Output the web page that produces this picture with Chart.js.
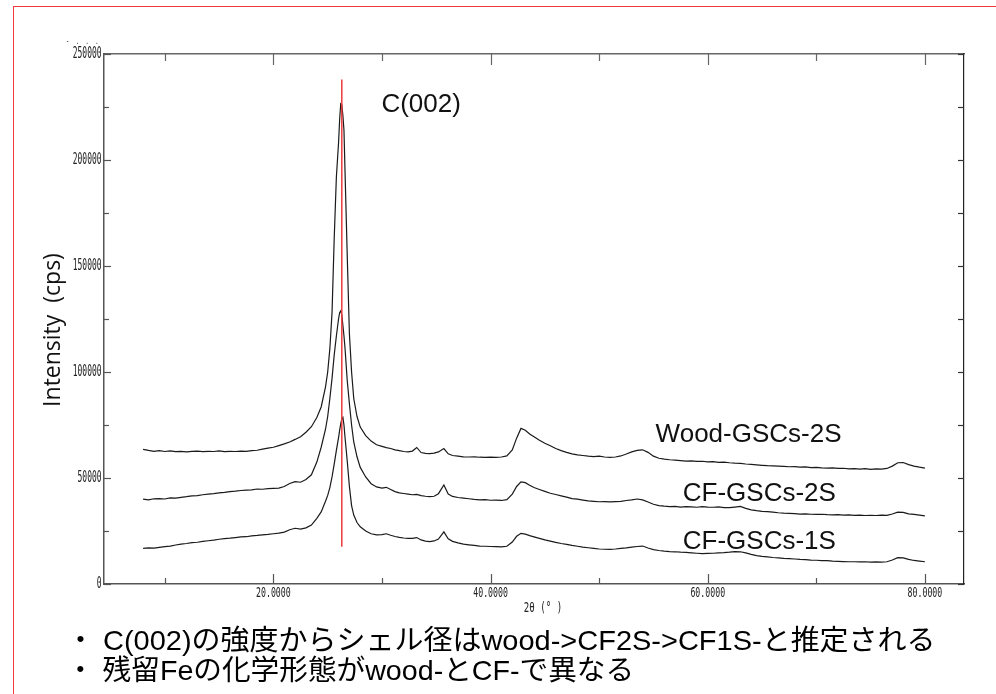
<!DOCTYPE html>
<html>
<head>
<meta charset="utf-8">
<script src="https://cdn.jsdelivr.net/npm/chart.js@4.4.1/dist/chart.umd.min.js"></script>
<style>
  html, body { margin: 0; padding: 0; background: #fff; }
  #wrap { position: relative; width: 996px; height: 694px; overflow: hidden; }
  #c { position: absolute; left: 0; top: 0; }
  #frameTop { position: absolute; left: 13px; top: 6px; width: 983px; height: 0; border-top: 1px solid #f23a3a; }
  #frameLeft { position: absolute; left: 13px; top: 6px; width: 0; height: 688px; border-left: 1px solid #f23a3a; }
</style>
</head>
<body>
<div id="wrap">
  <canvas id="c" width="996" height="694"></canvas>
  <div id="frameTop"></div>
  <div id="frameLeft"></div>
</div>
<script>
// 2θ sampling grid (degrees)
const twoTheta = [
  8, 8.5, 9, 9.5, 10, 10.5, 11, 11.5, 12, 12.5,
  13, 13.5, 14, 14.5, 15, 15.5, 16, 16.5, 17, 17.5,
  18, 18.5, 19, 19.5, 20,
  20.5, 21, 21.5, 22, 22.5, 23, 23.5, 24, 24.4, 24.8,
  25.0, 25.2, 25.4, 25.6, 25.8, 26.0, 26.1, 26.2, 26.3, 26.4,
  26.5, 26.6, 26.8, 27.0, 27.2, 27.4, 27.7, 28.0,
  28.5, 29, 29.5, 30, 30.4, 30.8, 31.2, 31.6, 32, 32.4,
  32.8, 33.2, 33.6, 34, 34.4, 34.8, 35.2, 35.7, 36.1, 36.5,
  37, 37.5, 38, 38.5, 39, 39.5, 40, 40.5, 41, 41.5,
  42, 42.4, 42.8, 43.2, 43.6, 44, 44.5, 45,
  45.5, 46, 46.5, 47, 47.5, 48, 48.5, 49, 49.5, 50,
  50.5, 51, 51.5, 52, 52.5, 53, 53.5, 54, 54.5, 55,
  55.5, 56, 56.5, 57, 57.5, 58, 58.5, 59, 59.5, 60,
  60.5, 61, 61.5, 62, 62.5, 63, 63.5, 64, 64.5, 65,
  65.5, 66, 66.5, 67, 67.5, 68, 68.5, 69, 69.5, 70,
  70.5, 71, 71.5, 72, 72.5, 73, 73.5, 74, 74.5, 75,
  75.5, 76, 76.5, 77, 77.5, 78, 78.5, 79, 79.5, 80
];

// Intensity (cps), Wood-GSCs-2S
const woodGSCs2S = [
  63500, 63000, 62600, 62900, 62500, 62800, 62400, 62600, 62300, 62600,
  62700, 62400, 62600, 62500, 62800, 62400, 62600, 62500, 62700, 62600,
  62900, 63100, 63600, 64100, 64500,
  65300, 66100, 67000, 68200, 69500, 71600, 74200, 78500, 83500, 93000,
  100000, 111000, 128000, 163000, 192000, 208000, 219000, 226500, 226000, 221000,
  214000, 194000, 155000, 118000, 100000, 87500, 79000, 74000,
  70000, 67400, 65700, 64900, 64300, 63900, 63300, 62900, 62500, 62300,
  62700, 64400, 62000, 61600, 61500, 61700, 62300, 63900, 61400, 60600,
  60300, 60000, 59900, 60000, 59800, 59700, 59800, 59700, 59900, 60400,
  63200, 68800, 73400, 72500, 70800, 69500, 67800, 66400,
  65200, 63900, 62900, 62100, 61400, 60900, 60600, 60300, 60100, 60300,
  59900, 59700, 59900, 60400, 61300, 62300, 63000, 63300, 62100, 60300,
  59300, 58900, 58600, 58400, 58200, 58000, 58100, 57800, 57900, 57600,
  57700, 57400, 57500, 57200, 57000, 56900, 56600, 56400, 56200, 56000,
  55800, 55700, 55600, 55500, 55300, 55400, 55100, 55200, 54900, 55000,
  54800, 54700, 54800, 54500, 54600, 54300, 54400, 54200, 54400, 54100,
  54300, 54200, 54500, 55600, 57200, 57300, 56300, 55600, 55100, 54700
];

// Intensity (cps), CF-GSCs-2S
const cfGSCs2S = [
  40000, 39700, 40200, 40300, 40100, 40600, 40500, 40900, 41200, 41600,
  41700, 42100, 42400, 42600, 43000, 43200, 43600, 43800, 44100, 44300,
  44400, 44800, 44700, 45000, 45100,
  45200, 46000, 47400, 48300, 48000, 49300, 51500, 57500, 64500, 73000,
  79000, 87500, 97000, 108000, 117000, 125000, 128000, 128800, 127000, 122000,
  117000, 111000, 96000, 85000, 75000, 67000, 60000, 55000,
  50500, 47300, 45800, 45200, 45600, 44600, 43600, 43000, 42700, 42400,
  42100, 42300, 41700, 41400, 41200, 41400, 42600, 46700, 42400, 41300,
  40800, 40500, 40200, 39900, 39700, 39800, 39500, 39600, 39400, 39800,
  42400, 46000, 48200, 47800, 46600, 45500, 44600, 43700,
  42800, 42200, 41600, 41000, 40300, 40000, 39600, 39200, 39000, 38800,
  38900, 38700, 38900, 39000, 39400, 39700, 40100, 39700, 38700, 37600,
  37000, 36700, 36500, 36600, 36300, 36500, 36400, 36200, 36500, 36300,
  36200, 36400, 36000, 36000, 36300, 36600, 35700, 35000, 34600, 34300,
  34100, 33900, 33600, 33400, 33300, 33200, 33000, 33100, 32900, 32800,
  32900, 32700, 32600, 32700, 32500, 32600, 32400, 32500, 32300, 32400,
  32300, 32500, 32400, 33000, 33900, 33800, 33100, 32800, 32500, 32100
];

// Intensity (cps), CF-GSCs-1S
const cfGSCs1S = [
  16800, 17000, 16900, 17300, 17600, 17900, 18400, 18800, 19100, 19500,
  19700, 20100, 20400, 20700, 21100, 21400, 21600, 21900, 22200, 22300,
  22700, 22900, 23200, 23400, 23700,
  24000, 24500, 25600, 26300, 25900, 26500, 27800, 31000, 34000, 39000,
  41800, 45500, 50500, 56500, 63000, 69000, 72500, 75500, 77800, 78600,
  75000, 69000, 58000, 46000, 37000, 32500, 29000, 27000,
  25000, 23700, 23200, 23300, 23700, 23000, 22400, 22000, 21700, 21500,
  21500, 21900, 20800, 20200, 20000, 20300, 21200, 24600, 21300, 20100,
  19400, 18800, 18500, 18200, 17900, 17800, 17700, 17600, 17500, 17800,
  19800, 22500, 23900, 23500, 22800, 22200, 21500, 20800,
  20200, 19600, 19100, 18700, 18200, 17800, 17400, 17100, 16800, 16500,
  16400, 16300, 16500, 16800, 17000, 17400, 17700, 17900, 17000, 16200,
  15800, 15500, 15300, 15200, 15000, 14900, 14700, 14500, 14300, 14400,
  14500, 14700, 14800, 15000, 15300, 15200, 14700, 14000, 13400, 13000,
  12800, 12500, 12300, 12100, 12000, 11800, 11600, 11500, 11300, 11200,
  11000, 11000, 10800, 10700, 10600, 10500, 10500, 10400, 10500, 10300,
  10400, 10300, 10500, 11300, 12400, 12300, 11600, 11100, 10800, 10500
];

// C(002) reference line: 2θ position and intensity span
const c002Angle = 26.3;
const c002Span = [17600, 238000];

// axis tick values and labels
const xTickValues = [10, 20, 30, 40, 50, 60, 70, 80];
const xLabelValues = [20, 40, 60, 80];
const yTickValues = [0, 25000, 50000, 75000, 100000, 125000, 150000, 175000, 200000, 225000, 250000];
const yLabelValues = [0, 50000, 100000, 150000, 200000, 250000];

// text annotations, anchored in data coordinates
const annotations = [
  { text: 'C(002)', x: 29.95, y: 222800 },
  { text: 'Wood-GSCs-2S', x: 55.2, y: 67100 },
  { text: 'CF-GSCs-2S', x: 57.7, y: 39150 },
  { text: 'CF-GSCs-1S', x: 57.7, y: 16370 }
];

const notes = [
  '・ C(002)の強度からシェル径はwood->CF2S->CF1S-と推定される',
  '・ 残留Feの化学形態がwood-とCF-で異なる'
];

const toPoints = (ys) => twoTheta.map((t, i) => ({ x: t, y: ys[i] }));

function narrowText(ctx, text, x, y, align, font, sx) {
  ctx.save();
  ctx.translate(x, y);
  ctx.scale(sx, 1);
  ctx.font = font;
  ctx.textAlign = align;
  ctx.textBaseline = 'middle';
  ctx.fillText(text, 0, 0);
  ctx.restore();
}

function wideText(ctx, text, x, y, sx) {
  ctx.save();
  ctx.translate(x, y);
  ctx.scale(sx, 1);
  ctx.fillText(text, 0, 0);
  ctx.restore();
}

const overlay = {
  id: 'overlay',
  afterDraw(chart) {
    const { ctx, chartArea: a } = chart;
    const x = chart.scales.x, y = chart.scales.y;
    ctx.save();

    // inward tick marks on all four sides
    const seg = (x1, y1, x2, y2, color, w) => {
      ctx.strokeStyle = color; ctx.lineWidth = w;
      ctx.beginPath(); ctx.moveTo(x1, y1); ctx.lineTo(x2, y2); ctx.stroke();
    };
    xTickValues.forEach(v => {
      const px = Math.round(x.getPixelForValue(v)) + 0.5;
      const major = xLabelValues.includes(v);
      seg(px, a.bottom, px, a.bottom - (major ? 10 : 6), '#555', 1.2);
      seg(px, a.top, px, a.top + (major ? 11 : 7), '#666', 1.2);
    });
    yTickValues.forEach(v => {
      const py = Math.round(y.getPixelForValue(v)) + 0.5;
      const major = yLabelValues.includes(v);
      seg(a.left, py, a.left + (major ? 7 : 5), py, '#555', 1.2);
      seg(a.right, py, a.right - 6, py, '#333', 1.2);
    });

    // tick labels in a narrow face
    ctx.fillStyle = '#222';
    yLabelValues.forEach(v => {
      narrowText(ctx, String(v), a.left - 2.5, y.getPixelForValue(v) + 0.5, 'right', '15px "DejaVu Sans Mono"', 0.53);
    });
    xLabelValues.forEach(v => {
      narrowText(ctx, v.toFixed(4), x.getPixelForValue(v), a.bottom + 9.5, 'center', '13.5px "DejaVu Sans Mono"', 0.61);
    });
    narrowText(ctx, '2θ (° )', 543, 608, 'center', '14px "DejaVu Sans Mono"', 0.65);
    narrowText(ctx, '-  .  .  .', 66, 42, 'left', '9px "DejaVu Sans Mono"', 0.6);

    // y axis title
    ctx.save();
    ctx.translate(59.5, 330);
    ctx.rotate(-Math.PI / 2);
    ctx.fillStyle = '#111';
    ctx.font = '23px "Open Sans"';
    ctx.textAlign = 'center';
    ctx.textBaseline = 'alphabetic';
    ctx.fillText('Intensity  (cps)', 0, 0);
    ctx.restore();

    // peak and sample labels
    ctx.fillStyle = '#111';
    ctx.font = '26px "Liberation Sans"';
    ctx.textAlign = 'left';
    ctx.textBaseline = 'alphabetic';
    annotations.forEach(n => {
      ctx.fillText(n.text, x.getPixelForValue(n.x), y.getPixelForValue(n.y));
    });

    // remarks under the chart
    ctx.fillStyle = '#000';
    ctx.font = '28px "Liberation Sans", "Noto Sans CJK JP"';
    wideText(ctx, notes[0], 66, 650, 1.035);
    wideText(ctx, notes[1], 66, 680, 1.023);

    ctx.restore();
  }
};

const axisBase = {
  type: 'linear',
  ticks: { display: false },
  grid: { display: false, drawTicks: false }
};

new Chart(document.getElementById('c'), {
  type: 'line',
  data: {
    datasets: [
      {
        label: 'C(002)',
        data: [{ x: c002Angle, y: c002Span[1] }, { x: c002Angle, y: c002Span[0] }],
        borderColor: '#ef3b3b', borderWidth: 1.5, pointRadius: 0
      },
      { label: 'Wood-GSCs-2S', data: toPoints(woodGSCs2S), borderColor: '#1a1a1a', borderWidth: 1.2, pointRadius: 0 },
      { label: 'CF-GSCs-2S', data: toPoints(cfGSCs2S), borderColor: '#1a1a1a', borderWidth: 1.2, pointRadius: 0 },
      { label: 'CF-GSCs-1S', data: toPoints(cfGSCs1S), borderColor: '#1a1a1a', borderWidth: 1.2, pointRadius: 0 }
    ]
  },
  options: {
    responsive: false,
    devicePixelRatio: 1,
    animation: false,
    layout: { padding: { left: 104, top: 54, right: 32, bottom: 110 } },
    plugins: { legend: { display: false }, tooltip: { enabled: false } },
    scales: {
      x: { ...axisBase, position: 'bottom', min: 4.4, max: 83.6, border: { display: true, color: '#555', width: 1.5 } },
      xTop: { ...axisBase, position: 'top', min: 4.4, max: 83.6, border: { display: true, color: '#666', width: 1.5 } },
      y: { ...axisBase, position: 'left', min: 0, max: 250000, border: { display: true, color: '#555', width: 1.5 } },
      yRight: { ...axisBase, position: 'right', min: 0, max: 250000, border: { display: true, color: '#222', width: 1.2 } }
    }
  },
  plugins: [overlay]
});
</script>
</body>
</html>
